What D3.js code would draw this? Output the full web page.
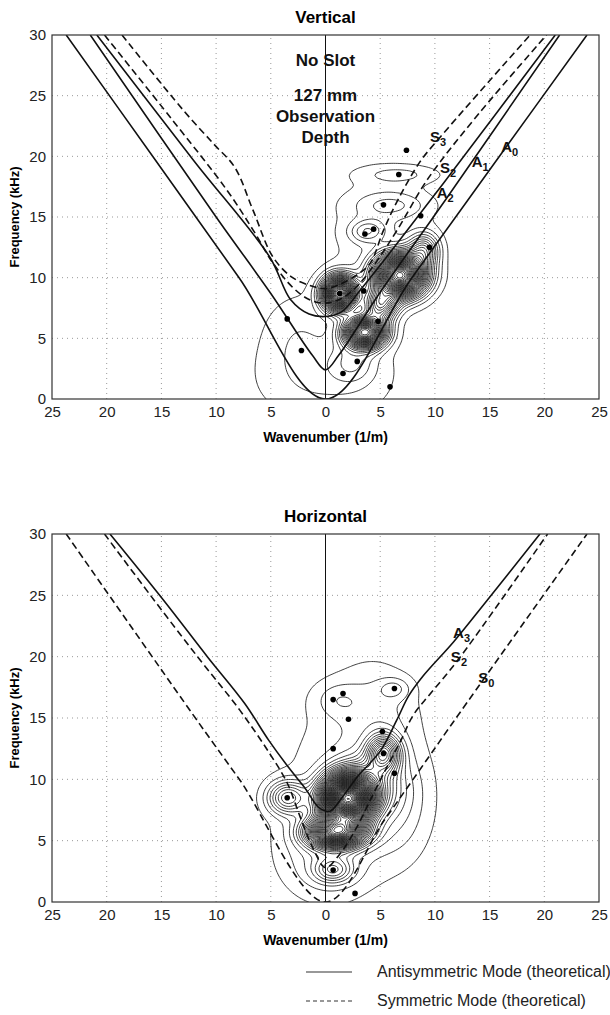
<!DOCTYPE html>
<html>
<head>
<meta charset="utf-8">
<script src="https://cdn.jsdelivr.net/npm/d3@7"></script>
<style>
  body { margin: 0; background: #fff; }
  svg { font-family: "Liberation Sans", Arial, sans-serif; }
</style>
</head>
<body>
<div class="canvas"></div>
<script>

// axis ticks
const kTicks = [-25, -20, -15, -10, -5, 0, 5, 10, 15, 20, 25];
const fTicks = [0, 5, 10, 15, 20, 25, 30];

// ---- Vertical panel: theoretical modes, [wavenumber, kHz]
const vA0 = [[-23.7, 30], [-15.8, 20], [-7.9, 10], [0, 0], [7.9, 10], [15.9, 20], [23.9, 30]];
const vA1 = [[-21.5, 30], [-10, 15], [-5, 8.7], [-1.2, 3.6], [0, 2.4], [1.2, 3.6], [5, 8.8], [10.8, 16.2], [21.4, 30]];
const vA2 = [[-20.9, 30], [-12, 19.6], [-5.1, 11.7], [-3.2, 8.2], [-1.5, 7], [0, 6.8], [1.5, 7.2], [3.2, 9], [5.5, 11.6], [10.8, 17.8], [21, 30]];
const vS2 = [[-20.2, 30], [-14, 23], [-9, 17.2], [-6.6, 13.9], [-4.8, 11.2], [-3, 9.2], [-1.5, 8.2], [0, 7.9], [1.5, 8.3], [3, 9.4], [4.8, 11.5], [6.6, 14], [9.4, 18.2], [14, 23.5], [20.2, 30]];
const vS3 = [[-18.6, 30], [-13, 23.8], [-10.2, 21], [-8.3, 19.1], [-6.6, 15.5], [-4.8, 11.7], [-3, 10], [-1.2, 9.3], [0, 9.1], [1.2, 9.4], [3, 10.3], [4.1, 11.2], [5.3, 13.9], [6.5, 16.2], [8.6, 19.5], [10.5, 21.6], [18.7, 30]];

// measured peaks (dots)
const vDotK = [7.4, 6.7, 5.3, 4.4, 3.6, 8.7, 9.5, 1.3, -3.5, -2.2, 2.9, 1.6, 5.9, 3.5, 4.8];
const vDotF = [20.5, 18.5, 16.0, 14.0, 13.6, 15.1, 12.5, 8.7, 6.6, 4.0, 3.1, 2.1, 1.0, 8.9, 6.4];

// energy peaks behind the contour map
const vPeakK = [1.3, 6.8, 3.6, 5.0, 9.0, 4.0, 6.0, 6.7, 0.0, 5.0, -2.5, 2.5, 3.6];
const vPeakF = [8.7, 10.2, 5.5, 7.8, 12.3, 14.0, 16.0, 18.5, 1.5, 13.0, 5.5, 3.0, 13.6];
const vPeakA = [1.4, 1.6, 1.3, 0.6, 0.35, 0.1, 0.1, 0.08, 0.08, 0.06, 0.06, 0.12, 0.08];
const vPeakSK = [1.0, 1.5, 1.2, 1.0, 0.9, 1.2, 2.4, 2.6, 4.5, 3.5, 2.5, 1.5, 1.0];
const vPeakSF = [0.9, 1.1, 0.8, 0.9, 0.9, 0.6, 0.8, 0.55, 2.5, 4.0, 2.5, 1.2, 0.6];

const vLabels = [
  { m: 'S', s: '3', k: 10.2, f: 21.6 },
  { m: 'S', s: '2', k: 11.1, f: 19.0 },
  { m: 'A', s: '1', k: 14.0, f: 19.5 },
  { m: 'A', s: '0', k: 16.7, f: 20.8 },
  { m: 'A', s: '2', k: 10.8, f: 17.0 }
];

// ---- Horizontal panel
const hS0 = [[-23.7, 30], [-11.5, 14.5], [-7.8, 9.9], [0, 0], [5.4, 6.7], [9.5, 11.9], [11.7, 14.7], [23.9, 30]];
const hS2 = [[-20.2, 30], [-16, 25], [-11.7, 20], [-7.8, 15.6], [-5.1, 12.1], [-3.5, 9.7], [-2.3, 6.9], [-1.1, 4.3], [0, 2.8], [1.3, 3.9], [2.8, 6], [4.2, 8.5], [5.5, 10.8], [6.8, 13], [8, 15.2], [9.6, 17], [12, 19.6], [20.3, 30]];
const hA3 = [[-19.7, 30], [-14.8, 24.6], [-10.8, 20], [-7.4, 16.2], [-5.2, 13.2], [-3.4, 11], [-1.8, 9.2], [-0.6, 7.7], [0.4, 7.4], [1.5, 8.5], [2.9, 10.2], [5, 12.3], [6.5, 14.8], [7.6, 16.8], [8.9, 18.4], [11.7, 21.2], [14.6, 24.4], [19.6, 30]];

const hDotK = [0.7, 1.6, 6.3, 2.1, 0.7, 5.2, 5.3, 6.3, -3.5, 0.7, 2.7];
const hDotF = [16.5, 17.0, 17.4, 14.9, 12.5, 13.9, 12.1, 10.5, 8.5, 2.6, 0.7];

const hPeakK = [2.0, 1.0, 5.3, -3.5, 0.7, 6.3, 2.5, 4.5, 0.0, 3.5, 1.0, 6.5];
const hPeakF = [8.4, 5.7, 12.1, 8.5, 2.6, 17.4, 10.0, 16.0, 4.0, 9.5, 16.5, 8.0];
const hPeakA = [2.2, 1.3, 0.55, 0.35, 0.25, 0.09, 0.07, 0.07, 0.12, 0.3, 0.07, 0.1];
const hPeakSK = [1.5, 1.7, 1.0, 1.2, 1.2, 1.0, 4.5, 2.5, 2.8, 2.0, 1.5, 2.0];
const hPeakSF = [1.2, 0.8, 1.0, 0.9, 0.7, 0.6, 5.0, 2.5, 2.5, 1.5, 1.0, 3.0];

const hLabels = [
  { m: 'A', s: '3', k: 12.3, f: 21.9 },
  { m: 'S', s: '2', k: 12.1, f: 20.0 },
  { m: 'S', s: '0', k: 14.6, f: 18.3 }
];

const svg = d3.select('.canvas')
  .append('svg')
    .attr('width', 610)
    .attr('height', 1015);

const x = d3.scaleLinear().domain([-25, 25]).range([52, 599]);

const line = d3.line()
  .x(d => x(d[0]))
  .curve(d3.curveCatmullRom.alpha(0.5));

// grid of the summed peaks, 0.2 step in k and f
const gStep = 0.2, nx = 251, ny = 151;
function field(pk, pf, pa, sk, sf) {
  const v = new Array(nx * ny);
  for (let j = 0; j < ny; j++) {
    for (let i = 0; i < nx; i++) {
      const k = -25 + i * gStep, f = j * gStep;
      let s = 0;
      for (let p = 0; p < pk.length; p++) {
        const dk = (k - pk[p]) / sk[p], df = (f - pf[p]) / sf[p];
        s += pa[p] * Math.exp(-0.5 * (dk * dk + df * df));
      }
      v[j * nx + i] = s;
    }
  }
  return v;
}

function panel(opt) {
  const y = d3.scaleLinear().domain([0, 30]).range([opt.bottom, opt.top]);
  const g = svg.append('g');
  const id = 'clip' + opt.top;

  g.append('clipPath').attr('id', id)
    .append('rect')
      .attr('x', x(-25)).attr('y', y(30))
      .attr('width', x(25) - x(-25)).attr('height', y(0) - y(30));

  // dotted grid
  g.selectAll('.gx').data(kTicks.slice(1, -1)).enter().append('line')
    .attr('x1', d => x(d)).attr('x2', d => x(d))
    .attr('y1', y(0)).attr('y2', y(30))
    .attr('stroke', '#999').attr('stroke-width', 1).attr('stroke-dasharray', '1,4');
  g.selectAll('.gy').data(fTicks.slice(1, -1)).enter().append('line')
    .attr('y1', d => y(d)).attr('y2', d => y(d))
    .attr('x1', x(-25)).attr('x2', x(25))
    .attr('stroke', '#999').attr('stroke-width', 1).attr('stroke-dasharray', '1,4');

  // contour map
  const vals = field(opt.pk, opt.pf, opt.pa, opt.sk, opt.sf);
  const contours = d3.contours().size([nx, ny])
    .thresholds(d3.range(0.035, d3.max(vals), 0.045))(vals);
  const proj = d3.geoTransform({
    point: function(px, py) {
      this.stream.point(x(-25 + (px - 0.5) * gStep), y((py - 0.5) * gStep));
    }
  });
  g.append('g').attr('clip-path', `url(#${id})`)
    .selectAll('path').data(contours).enter().append('path')
      .attr('d', d3.geoPath(proj))
      .attr('fill', 'none')
      .attr('stroke', '#111')
      .attr('stroke-width', 0.8);

  // zero wavenumber line
  g.append('line')
    .attr('x1', x(0)).attr('x2', x(0)).attr('y1', y(0)).attr('y2', y(30))
    .attr('stroke', '#111').attr('stroke-width', 1);

  // theoretical modes
  line.y(d => y(d[1]));
  const modes = g.append('g').attr('clip-path', `url(#${id})`);
  opt.solid.forEach(m => {
    modes.append('path').attr('d', line(m))
      .attr('fill', 'none').attr('stroke', '#111').attr('stroke-width', 1.6);
  });
  opt.dashed.forEach(m => {
    modes.append('path').attr('d', line(m))
      .attr('fill', 'none').attr('stroke', '#111').attr('stroke-width', 1.6)
      .attr('stroke-dasharray', '7,4');
  });

  // measured points
  g.selectAll('circle').data(opt.dk).enter().append('circle')
    .attr('cx', d => x(d))
    .attr('cy', (d, i) => y(opt.df[i]))
    .attr('r', 2.8)
    .attr('fill', '#000');

  // mode names
  const lab = g.selectAll('.lab').data(opt.labels).enter().append('text')
    .attr('x', d => x(d.k) - 7)
    .attr('y', d => y(d.f) + 5)
    .attr('font-size', 15).attr('font-weight', 'bold').attr('fill', '#111');
  lab.append('tspan').text(d => d.m);
  lab.append('tspan').attr('dy', 4).attr('font-size', 11).text(d => d.s);

  // frame
  g.append('rect')
    .attr('x', x(-25)).attr('y', y(30))
    .attr('width', x(25) - x(-25)).attr('height', y(0) - y(30))
    .attr('fill', 'none').attr('stroke', '#333').attr('stroke-width', 1.2);

  // axes
  const xAxis = d3.axisBottom(x).tickValues(kTicks).tickSize(0).tickPadding(7)
    .tickFormat(d => Math.abs(d));
  const yAxis = d3.axisLeft(y).tickValues(fTicks).tickSize(0).tickPadding(6);
  const xg = g.append('g').attr('transform', `translate(0, ${y(0)})`).call(xAxis);
  const yg = g.append('g').attr('transform', `translate(${x(-25)}, 0)`).call(yAxis);
  [xg, yg].forEach(a => {
    a.select('.domain').remove();
    a.selectAll('text').attr('font-size', 15).attr('fill', '#222')
      .attr('font-family', '"Liberation Sans", Arial, sans-serif');
  });

  g.append('text')
    .attr('x', x(0)).attr('y', y(0) + 43)
    .attr('text-anchor', 'middle').attr('font-size', 14).attr('font-weight', 'bold')
    .text('Wavenumber (1/m)');
  g.append('text')
    .attr('transform', `translate(19, ${(y(0) + y(30)) / 2}) rotate(-90)`)
    .attr('text-anchor', 'middle').attr('font-size', 13).attr('font-weight', 'bold')
    .text('Frequency (kHz)');
  g.append('text')
    .attr('x', x(0)).attr('y', y(30) - 12)
    .attr('text-anchor', 'middle').attr('font-size', 17).attr('font-weight', 'bold')
    .text(opt.title);

  return { g, y };
}

const vPanel = panel({
  title: 'Vertical', top: 35, bottom: 399,
  solid: [vA0, vA1, vA2], dashed: [vS2, vS3],
  dk: vDotK, df: vDotF, labels: vLabels,
  pk: vPeakK, pf: vPeakF, pa: vPeakA, sk: vPeakSK, sf: vPeakSF
});

panel({
  title: 'Horizontal', top: 534, bottom: 902,
  solid: [hA3], dashed: [hS0, hS2],
  dk: hDotK, df: hDotF, labels: hLabels,
  pk: hPeakK, pf: hPeakF, pa: hPeakA, sk: hPeakSK, sf: hPeakSF
});

// annotation in the vertical panel
const note = vPanel.g.append('text')
  .attr('text-anchor', 'middle').attr('font-size', 17).attr('font-weight', 'bold').attr('fill', '#111');
[['No Slot', 66], ['127 mm', 101], ['Observation', 122], ['Depth', 143]].forEach(r => {
  note.append('tspan').attr('x', x(0)).attr('y', r[1]).text(r[0]);
});

// legend
const legend = svg.append('g').attr('font-size', 16).attr('fill', '#222');
legend.append('line').attr('x1', 306).attr('x2', 352).attr('y1', 972).attr('y2', 972)
  .attr('stroke', '#333').attr('stroke-width', 1.2);
legend.append('line').attr('x1', 306).attr('x2', 352).attr('y1', 1001).attr('y2', 1001)
  .attr('stroke', '#333').attr('stroke-width', 1.2).attr('stroke-dasharray', '4,3');
legend.append('text').attr('x', 377).attr('y', 977).text('Antisymmetric Mode (theoretical)');
legend.append('text').attr('x', 377).attr('y', 1006).text('Symmetric Mode (theoretical)');

</script>
</body>
</html>
